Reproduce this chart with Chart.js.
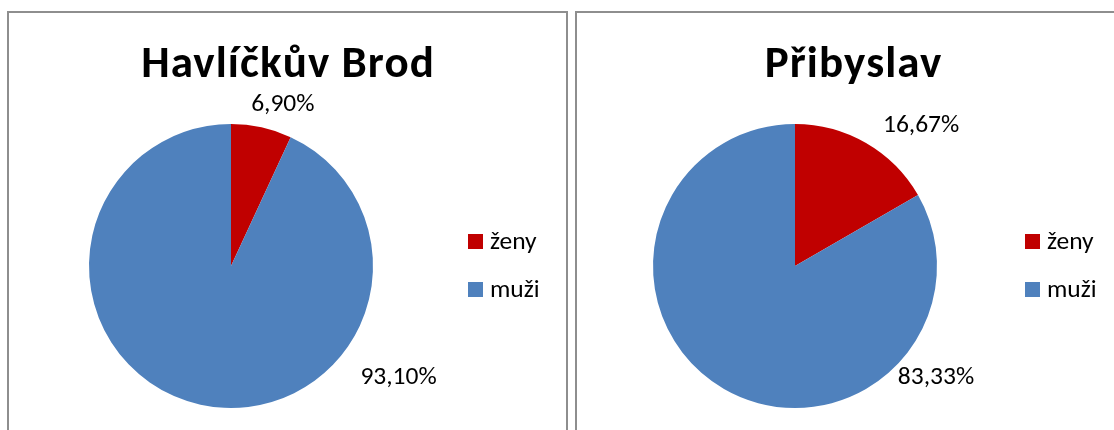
<!DOCTYPE html>
<html>
<head>
<meta charset="utf-8">
<script src="https://cdn.jsdelivr.net/npm/chart.js@4/dist/chart.umd.min.js"></script>
<style>
  body { margin: 0; background: #fff; width: 1114px; height: 430px; overflow: hidden; position: relative; }
  .panel { position: absolute; top: 11px; height: 440px; border: 2px solid #8e8e8e; box-sizing: border-box; background: #fff; }
  #p1 { left: 7px; width: 561px; }
  #p2 { left: 575px; width: 556px; }
  canvas { position: absolute; left: 0; top: 0; }
</style>
</head>
<body>
<div class="panel" id="p1"><canvas id="c1" width="557" height="420"></canvas></div>
<div class="panel" id="p2"><canvas id="c2" width="552" height="420"></canvas></div>
<script>
var categories = ['ženy', 'muži'];
var brodValues = [6.90, 93.10];
var pribyslavValues = [16.67, 83.33];
var chartTitles = ['Havlíčkův Brod', 'Přibyslav'];
var sliceColors = ['#C00000', '#4F81BD'];

var FONT = "Carlito, Lato, 'DejaVu Sans', sans-serif";

function fmt(v) {
	return v.toFixed(2).replace('.', ',') + '%';
}

// draws title, legend and outside labels like the excel chart
var excelDecor = {
	id: 'excelDecor',
	afterDraw: function(chart, args, opts) {
		var ctx = chart.ctx;
		ctx.save();
		// title
		ctx.fillStyle = '#000';
		ctx.font = 'bold ' + opts.titleSize + 'px ' + FONT;
		ctx.textAlign = 'center';
		ctx.textBaseline = 'alphabetic';
		ctx.letterSpacing = opts.titleSpacing + 'px';
		ctx.fillText(opts.title, chart.width / 2 + opts.titleSpacing / 2, opts.titleY);
		ctx.letterSpacing = '0px';
		// legend
		var ds = chart.data.datasets[0];
		ctx.font = opts.textSize + 'px ' + FONT;
		ctx.textAlign = 'left';
		ctx.textBaseline = 'middle';
		for (var i = 0; i < chart.data.labels.length; i++) {
			var y = opts.legendY + i * opts.legendGap;
			ctx.fillStyle = ds.backgroundColor[i];
			ctx.fillRect(opts.legendX, y - 7.5, 15, 15);
			ctx.fillStyle = '#000';
			ctx.fillText(chart.data.labels[i], opts.legendX + 22, y + 1);
		}
		// value labels
		var meta = chart.getDatasetMeta(0);
		ctx.textAlign = 'center';
		for (var j = 0; j < meta.data.length; j++) {
			var arc = meta.data[j];
			var a = (opts.labelAngles[j] - 90) * Math.PI / 180;
			var r = arc.outerRadius * opts.labelDist[j];
			ctx.fillText(fmt(ds.data[j]), arc.x + r * Math.cos(a), arc.y + r * Math.sin(a) + 1);
		}
		ctx.restore();
	}
};

function makePie(id, values, title, pad, decor) {
	var ctx = document.getElementById(id).getContext('2d');
	decor.title = title;
	return new Chart(ctx, {
		type: 'pie',
		data: {
			labels: categories,
			datasets: [{
				data: values,
				backgroundColor: sliceColors,
				borderWidth: 0
			}]
		},
		options: {
			responsive: false,
			animation: false,
			layout: { padding: pad },
			plugins: {
				legend: { display: false },
				title: { display: false },
				tooltip: { enabled: false },
				excelDecor: decor
			}
		},
		plugins: [excelDecor]
	});
}

makePie('c1', brodValues, chartTitles[0],
	{ left: 80, top: 111, right: 193, bottom: 25 },
	{ titleSize: 45, titleSpacing: 1.1, titleY: 64, textSize: 25.5, legendX: 459, legendY: 228.5, legendGap: 48,
	  labelAngles: [17.7, 123.5], labelDist: [1.20, 1.415] });

makePie('c2', pribyslavValues, chartTitles[1],
	{ left: 76, top: 111, right: 192, bottom: 25 },
	{ titleSize: 45, titleSpacing: 1.1, titleY: 64, textSize: 25.5, legendX: 448, legendY: 228.5, legendGap: 48,
	  labelAngles: [41.7, 128.0], labelDist: [1.335, 1.26] });
</script>
</body>
</html>
